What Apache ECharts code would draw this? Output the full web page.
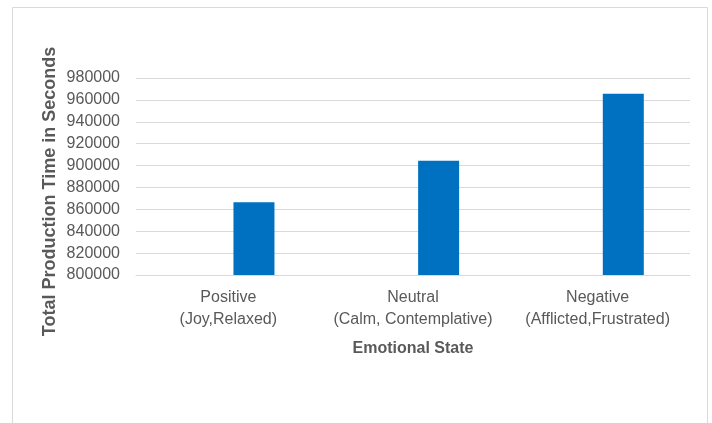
<!DOCTYPE html>
<html>
<head>
<meta charset="utf-8">
<script src="https://cdn.jsdelivr.net/npm/echarts@6/dist/echarts.min.js"></script>
<style>
  html, body { margin: 0; padding: 0; background: #fff; }
  #chart { width: 712px; height: 423px; }
</style>
</head>
<body>
<div id="chart"></div>
<script>
// categories and values
const categories = ['Positive\n(Joy,Relaxed)', 'Neutral\n(Calm, Contemplative)', 'Negative\n(Afflicted,Frustrated)'];
const emptySeries = [null, null, null];
const productionTime = [866500, 904500, 965500];

const chart = echarts.init(document.getElementById('chart'));
const font = 'Liberation Sans, Arial, sans-serif';

chart.setOption({
    animation: false,
    graphic: [{
        type: 'rect',
        shape: { x: 12.5, y: 7.5, width: 695, height: 430 },
        style: { fill: 'none', stroke: '#d9d9d9', lineWidth: 1 }
    }],
    grid: {
        left: 136,
        right: 22,
        top: 78,
        bottom: 148
    },
    xAxis: {
        type: 'category',
        data: categories,
        axisLine: { show: true, lineStyle: { color: '#d9d9d9' } },
        axisTick: { show: false },
        axisLabel: {
            interval: 0,
            color: '#595959',
            fontFamily: font,
            fontSize: 16,
            lineHeight: 22,
            margin: 12
        },
        name: 'Emotional State',
        nameLocation: 'middle',
        nameGap: 66,
        nameTextStyle: {
            color: '#595959',
            fontFamily: font,
            fontSize: 16,
            fontWeight: 'bold'
        }
    },
    yAxis: {
        type: 'value',
        min: 800000,
        max: 980000,
        interval: 20000,
        axisLine: { show: false },
        axisTick: { show: false },
        splitLine: { lineStyle: { color: '#d9d9d9', width: 1 } },
        axisLabel: {
            color: '#595959',
            fontFamily: font,
            fontSize: 16,
            margin: 16,
            formatter: v => String(v)
        },
        name: 'Total Production Time in Seconds',
        nameLocation: 'middle',
        nameGap: 77,
        nameMoveOverlap: false,
        nameTextStyle: {
            color: '#595959',
            fontFamily: font,
            fontSize: 18,
            fontWeight: 'bold',
            padding: [0, 30, 0, 0]
        }
    },
    series: [
        {
            type: 'bar',
            data: emptySeries,
            barWidth: 41,
            barGap: '25%'
        },
        {
            type: 'bar',
            data: productionTime,
            barWidth: 41,
            barGap: '25%',
            itemStyle: { color: '#0070c0' }
        }
    ]
});
</script>
</body>
</html>
